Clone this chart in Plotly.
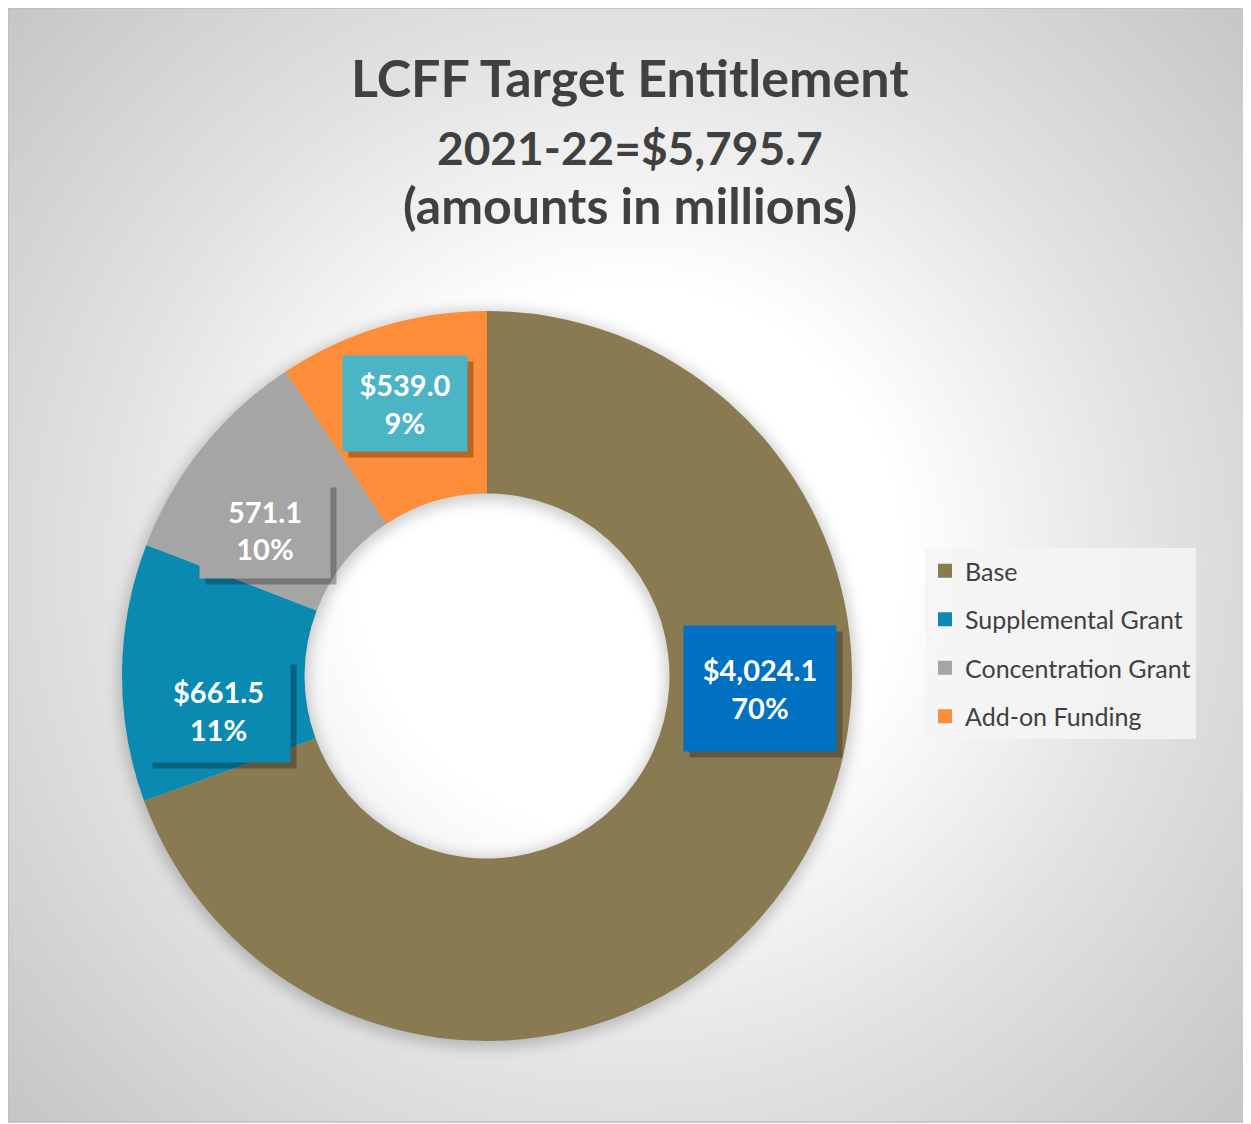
import base64
import math
import plotly.graph_objects as go

# ---------------- data ----------------
categories = ["Base", "Supplemental Grant", "Concentration Grant", "Add-on Funding"]
amounts = [4024.1, 661.5, 571.1, 539.0]
value_labels = ["$4,024.1", "$661.5", "571.1", "$539.0"]
pct_labels = ["70%", "11%", "10%", "9%"]
title_lines = ["LCFF Target Entitlement", "2021-22=$5,795.7", "(amounts in millions)"]

# ---------------- style ----------------
slice_colors = ["#8A7A52", "#0A89B1", "#A5A5A5", "#FE8D39"]
box_colors = ["#0070C0", "#0A89B1", "#A5A5A5", "#4BB5C6"]
box_sizes = [(152, 125), (143, 103), (130, 96), (124, 95)]
label_angle_nudge = [-32.4, -7.8, -5.5, 0.0]   # degrees, relative to slice mid-angle
label_radius_nudge = [0, -3, -8, 11]           # pixels, relative to ring middle

OFF = 8                      # page body margin: figure origin sits at (8, 8) in the window
W, H = 1251 - OFF, 1124 - OFF
FONT = "Lato"
TXT = "#404040"

# geometry in window pixels (as measured on the reference)
CX, CY, R = 487, 676, 365
HOLE = 0.5
FX0, FY0, FX1, FY1 = 8, 8, 1250, 1122


def px(x):
    return (x - OFF) / W


def py(y):
    return 1 - (y - OFF) / H


fw, fh = FX1 - FX0, FY1 - FY0

# ---------------- background (radial gradient + donut glow) ----------------
svg = f'''<svg xmlns="http://www.w3.org/2000/svg" width="{fw}" height="{fh}" viewBox="0 0 {fw} {fh}" preserveAspectRatio="none">
<defs>
<radialGradient id="g" gradientUnits="userSpaceOnUse" cx="{630 - FX0}" cy="{560 - FY0}" r="850">
<stop offset="0" stop-color="#FFFFFF"/>
<stop offset="0.32" stop-color="#FFFFFF"/>
<stop offset="0.62" stop-color="#E2E2E2"/>
<stop offset="1" stop-color="#C4C4C4"/>
</radialGradient>
<filter id="b" x="-30%" y="-30%" width="160%" height="160%"><feGaussianBlur stdDeviation="7"/></filter>
</defs>
<rect width="{fw}" height="{fh}" fill="url(#g)"/>
<circle cx="{CX - FX0}" cy="{CY - FY0 + 3}" r="{R * (1 + HOLE) / 2}" fill="none" stroke="#000000"
 stroke-opacity="0.2" stroke-width="{R * (1 - HOLE) + 8}" filter="url(#b)"/>
</svg>'''
bg_uri = "data:image/svg+xml;base64," + base64.b64encode(svg.encode()).decode()

fig = go.Figure()

fig.add_trace(go.Pie(
    labels=categories,
    values=amounts,
    hole=HOLE,
    sort=False,
    direction="clockwise",
    rotation=0,
    marker=dict(colors=slice_colors, line=dict(width=0)),
    textinfo="none",
    showlegend=False,
    domain=dict(x=[px(CX - R), px(CX + R)], y=[py(CY + R), py(CY - R)]),
    hovertemplate="%{label}<br>$%{value:,.1f}<br>%{percent}<extra></extra>",
))

# legend entries
for cat, col in zip(categories, slice_colors):
    fig.add_trace(go.Scatter(
        x=[None], y=[None], mode="markers", name=cat, legendgroup=cat,
        marker=dict(symbol="square", size=14, color=col), hoverinfo="skip",
    ))

# ---------------- data labels (boxes with shadow) ----------------
total = sum(amounts)
annotations = []
cum = 0.0
r_mid = R * (1 + HOLE) / 2
for i, v in enumerate(amounts):
    mid = (cum + v / 2) / total * 360.0
    cum += v
    ang = mid + label_angle_nudge[i]
    rl = r_mid + label_radius_nudge[i]
    lx = CX + rl * math.sin(math.radians(ang))
    ly = CY - rl * math.cos(math.radians(ang))
    bw, bh = box_sizes[i]
    common = dict(x=px(lx), y=py(ly), xref="paper", yref="paper", showarrow=False,
                  xanchor="center", yanchor="middle", width=bw, height=bh, borderpad=0)
    annotations.append(dict(common, text=" ", bgcolor="rgba(0,0,0,0.28)",
                            xshift=6, yshift=-6))
    annotations.append(dict(
        common,
        text=f"<b>{value_labels[i]}<br>{pct_labels[i]}</b>",
        bgcolor=box_colors[i],
        font=dict(family=FONT, size=29, color="white"), align="center", valign="middle",
    ))

# ---------------- titles ----------------
for txt, yy, sz in zip(title_lines, [77, 147, 205], [52, 46, 50]):
    annotations.append(dict(
        x=px(630), y=py(yy), xref="paper", yref="paper", text=f"<b>{txt}</b>",
        showarrow=False, xanchor="center", yanchor="middle",
        font=dict(family=FONT, size=sz, color=TXT),
    ))

fig.update_layout(
    width=W, height=H,
    margin=dict(l=0, r=0, t=0, b=0),
    paper_bgcolor="white",
    plot_bgcolor="rgba(0,0,0,0)",
    xaxis=dict(visible=False),
    yaxis=dict(visible=False),
    images=[dict(source=bg_uri, xref="paper", yref="paper", x=px(FX0), y=py(FY0),
                 sizex=fw / W, sizey=fh / H, xanchor="left", yanchor="top",
                 sizing="stretch", layer="below")],
    shapes=[dict(type="rect", xref="paper", yref="paper", x0=px(FX0), x1=px(FX1),
                 y0=py(FY1), y1=py(FY0), line=dict(color="#BDBDBD", width=1.5),
                 fillcolor="rgba(0,0,0,0)", layer="above")],
    annotations=annotations,
    showlegend=True,
    legend=dict(
        x=px(925), y=py(548), xanchor="left", yanchor="top",
        bgcolor="rgba(244,244,244,0.85)", borderwidth=0,
        font=dict(family=FONT, size=25, color=TXT),
        tracegroupgap=13, itemclick=False, itemdoubleclick=False,
    ),
)

fig.write_html("out.html")
